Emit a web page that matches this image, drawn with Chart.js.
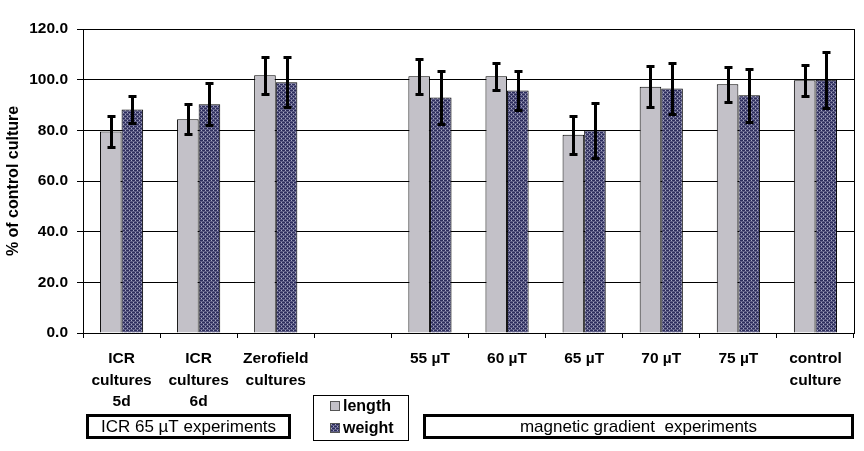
<!DOCTYPE html>
<html><head><meta charset="utf-8">
<script src="https://cdn.jsdelivr.net/npm/chart.js@4/dist/chart.umd.min.js"></script>
<style>html,body{margin:0;padding:0;background:#fff}#wrap{width:864px;height:451px;position:relative}</style>
</head><body><div id="wrap"><canvas id="c" width="864" height="451"></canvas></div>
<script>
const categories = [['ICR','cultures','5d'],['ICR','cultures','6d'],['Zerofield','cultures'],'','55 µT','60 µT','65 µT','70 µT','75 µT',['control','culture']];
const seriesNames = ['length','weight'];
const lengthValues = [79.5, 84.4, 101.7, null, 101.3, 101.3, 78.3, 97.2, 98.2, 99.8];
const lengthErrors = [6.0, 5.8, 7.2, null, 6.8, 5.4, 7.5, 8.0, 6.9, 6.1];
const weightValues = [88.2, 90.3, 99.0, null, 93.0, 95.7, 80.0, 96.5, 93.8, 100.0];
const weightErrors = [5.4, 8.2, 9.8, null, 10.4, 7.8, 10.8, 10.2, 10.4, 11.0];
const yMin = 0, yMax = 120, yStep = 20;
const yTitle = '% of control culture';
const groupBoxes = [
  {text:'ICR 65 µT experiments', x0:86, x1:291},
  {text:'magnetic gradient  experiments', x0:423, x1:854}
];

const FONT = "'Liberation Sans', Arial, sans-serif";
const lengthColor = '#c3c1c8';

function makePattern(){
  const c = document.createElement('canvas'); c.width = 4; c.height = 4;
  const x = c.getContext('2d');
  x.fillStyle = '#5e5e86'; x.fillRect(0,0,4,4);
  x.fillStyle = '#2c2c5c'; x.fillRect(0,0,3,1); x.fillRect(2,2,2,1); x.fillRect(0,2,1,1);
  x.fillStyle = '#a8a8c4'; x.fillRect(3,0,1,1); x.fillRect(1,2,1,1);
  return x.createPattern(c,'repeat');
}
const weightFill = makePattern();

const errorBars = {
  id:'errorBars',
  afterDatasetsDraw(chart){
    const ctx = chart.ctx, ys = chart.scales.y;
    ctx.save();
    ctx.strokeStyle = '#000'; ctx.lineWidth = 3; ctx.lineCap = 'butt';
    chart.data.datasets.forEach((ds,i)=>{
      const meta = chart.getDatasetMeta(i);
      meta.data.forEach((bar,j)=>{
        const v = ds.data[j], e = ds.errors[j];
        if (v == null || e == null) return;
        const x = Math.round(bar.x) + 0.5;
        const yt = Math.round(ys.getPixelForValue(v+e)) + 0.5;
        const yb = Math.round(ys.getPixelForValue(v-e)) + 0.5;
        ctx.beginPath();
        ctx.moveTo(x, yt - 1.5); ctx.lineTo(x, yb + 1.5);
        ctx.moveTo(x-4, yt); ctx.lineTo(x+4, yt);
        ctx.moveTo(x-4, yb); ctx.lineTo(x+4, yb);
        ctx.stroke();
      });
    });
    ctx.restore();
  }
};

const extras = {
  id:'extras',
  afterDraw(chart){
    const ctx = chart.ctx, a = chart.chartArea;
    ctx.save();
    ctx.strokeStyle = '#000'; ctx.lineWidth = 1;
    ctx.beginPath(); ctx.moveTo(Math.round(a.right)+0.5, a.top); ctx.lineTo(Math.round(a.right)+0.5, a.bottom); ctx.stroke();
    ctx.fillStyle = '#fff';
    ctx.fillRect(313.5, 395.5, 95, 45);
    ctx.strokeRect(313.5, 395.5, 95, 45);
    chart.data.datasets.forEach((ds,i)=>{
      const cy = 406 + i*22;
      ctx.fillStyle = ds.backgroundColor;
      ctx.fillRect(330.5, cy-4.5, 9, 9);
      ctx.strokeStyle = '#555'; ctx.lineWidth = 1;
      ctx.strokeRect(330.5, cy-4.5, 9, 9);
      ctx.fillStyle = '#000';
      ctx.font = 'bold 16px ' + FONT;
      ctx.textBaseline = 'middle'; ctx.textAlign = 'left';
      ctx.fillText(ds.label, 343, cy+1);
    });
    groupBoxes.forEach(b=>{
      ctx.strokeStyle = '#000'; ctx.lineWidth = 3;
      ctx.strokeRect(b.x0+1.5, 415.5, b.x1-b.x0-3, 22);
      ctx.fillStyle = '#000';
      ctx.font = '17px ' + FONT;
      ctx.textAlign = 'center'; ctx.textBaseline = 'middle';
      ctx.fillText(b.text, (b.x0+b.x1)/2, 427);
    });
    ctx.restore();
  }
};

new Chart(document.getElementById('c'), {
  type:'bar',
  data:{
    labels: categories,
    datasets:[
      {label: seriesNames[0], data: lengthValues, errors: lengthErrors, backgroundColor: lengthColor, borderColor:'#000', borderWidth:1, borderSkipped:'start'},
      {label: seriesNames[1], data: weightValues, errors: weightErrors, backgroundColor: weightFill, borderColor:'#000', borderWidth:1, borderSkipped:'start'}
    ]
  },
  options:{
    responsive:false, animation:false, devicePixelRatio:1,
    layout:{padding:{top:29, right:10, left:0, bottom:0}},
    datasets:{bar:{categoryPercentage:0.56, barPercentage:1.0}},
    plugins:{legend:{display:false}, tooltip:{enabled:false}},
    scales:{
      x:{
        grid:{display:true, drawOnChartArea:false, drawTicks:true, tickLength:5, color:'#000', offset:true},
        border:{display:true, color:'#000', width:1},
        ticks:{color:'#000', font:{family:FONT, size:15.5, weight:'bold', lineHeight:1.39}, padding:10, maxRotation:0, autoSkip:false},
        afterFit(s){ s.height = 118; }
      },
      y:{
        min:yMin, max:yMax,
        grid:{color:'#000', lineWidth:1, tickLength:6, drawTicks:true},
        border:{display:true, color:'#000', width:1},
        ticks:{stepSize:yStep, color:'#000', padding:9, font:{family:FONT, size:15.5, weight:'bold'}, callback:v=>Number(v).toFixed(1)},
        title:{display:true, text:yTitle, color:'#000', font:{family:FONT, size:16, weight:'bold'}, padding:{top:3.5, bottom:0}},
        afterFit(s){ s.width = 83; }
      }
    }
  },
  plugins:[errorBars, extras]
});
</script>
</body></html>
